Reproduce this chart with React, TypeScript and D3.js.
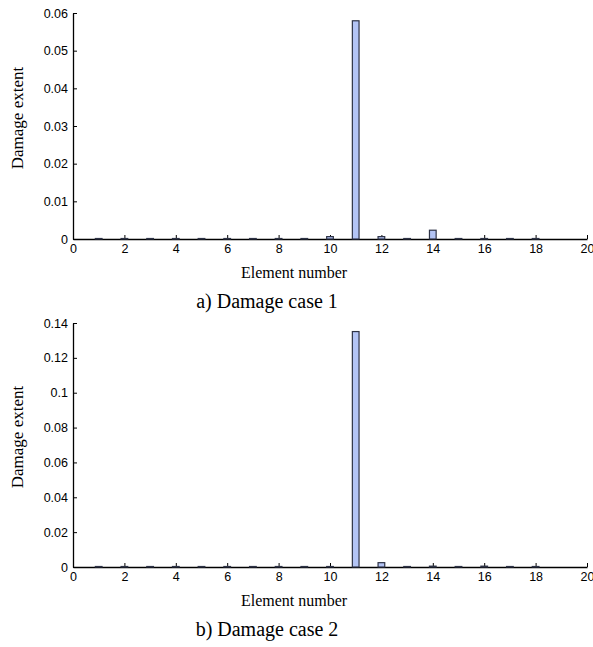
import React, { useRef, useEffect } from "react";
import * as d3 from "d3";

const width = 593;
const height = 647;

// element numbers along the bridge
const elements = [1, 2, 3, 4, 5, 6, 7, 8, 9, 10, 11, 12, 13, 14, 15, 16, 17, 18];
// damage extent, case 1
const case1 = [0, 0, 0, 0, 0, 0, 0, 0, 0, 0.0005, 0.0578, 0.0005, 0, 0.0022, 0, 0, 0, 0];
// damage extent, case 2
const case2 = [0, 0, 0, 0, 0, 0, 0, 0, 0, 0, 0.1348, 0.0022, 0, 0.0002, 0, 0.0002, 0, 0];

const xTicks = [0, 2, 4, 6, 8, 10, 12, 14, 16, 18, 20];
const yTicks1 = [0, 0.01, 0.02, 0.03, 0.04, 0.05, 0.06];
const yTicks2 = [0, 0.02, 0.04, 0.06, 0.08, 0.1, 0.12, 0.14];

const panels = [
  { values: case1, yMax: 0.06, yTicks: yTicks1, top: 13, bottom: 239, caption: "a) Damage case 1" },
  { values: case2, yMax: 0.14, yTicks: yTicks2, top: 323, bottom: 567, caption: "b) Damage case 2" },
];

const left = 73;
const right = 587;
const barWidth = 0.26; // in element units
const barFill = "#b3c4f5";
const barStroke = "#2e3346";
const serif = "'Liberation Serif', 'Times New Roman', serif";
const sans = "'Liberation Sans', Arial, sans-serif";

const x = d3.scaleLinear().domain([0, 20]).range([left, right]);

const App = () => {
  const svgRef = useRef(null);

  useEffect(() => {
    if (!svgRef.current) return;
    const svg = d3.select(svgRef.current);
    svg.selectAll("*").remove();

    panels.forEach((p) => {
      const y = d3.scaleLinear().domain([0, p.yMax]).range([p.bottom, p.top]);
      const g = svg.append("g");

      const xAxis = d3
        .axisBottom(x)
        .tickValues(xTicks)
        .tickSizeInner(-4)
        .tickSizeOuter(0)
        .tickPadding(5)
        .tickFormat(d3.format("d"));
      const yAxis = d3
        .axisLeft(y)
        .tickValues(p.yTicks)
        .tickSizeInner(-4)
        .tickSizeOuter(0)
        .tickPadding(5)
        .tickFormat(d3.format("~g"));

      const gx = g.append("g").attr("transform", `translate(0, ${p.bottom})`).call(xAxis);
      const gy = g.append("g").attr("transform", `translate(${left}, 0)`).call(yAxis);
      [gx, gy].forEach((a) => {
        a.attr("font-family", sans).attr("font-size", 12.5);
        a.selectAll("text").attr("fill", "#000");
        a.selectAll("line").attr("stroke", "#000");
        a.select(".domain").attr("stroke", "#000").attr("stroke-width", 1.3);
      });

      const data = elements.map((e, i) => ({ e, v: p.values[i] }));
      g.append("g")
        .selectAll("rect")
        .data(data)
        .enter()
        .append("rect")
        .attr("x", (d) => x(d.e - barWidth / 2))
        .attr("y", (d) => y(d.v) - 0.5)
        .attr("width", x(barWidth) - x(0))
        .attr("height", (d) => y(0) - y(d.v) + 0.5)
        .attr("fill", barFill)
        .attr("stroke", barStroke)
        .attr("stroke-width", 1.2);

      g.append("text")
        .attr("x", 294)
        .attr("y", p.bottom + 39)
        .attr("text-anchor", "middle")
        .attr("font-family", serif)
        .attr("font-size", 16)
        .text("Element number");

      g.append("text")
        .attr("transform", `translate(23, ${(p.top + p.bottom) / 2 - 8}) rotate(-90)`)
        .attr("text-anchor", "middle")
        .attr("font-family", serif)
        .attr("font-size", 17)
        .text("Damage extent");

      g.append("text")
        .attr("x", 267)
        .attr("y", p.bottom + 69)
        .attr("text-anchor", "middle")
        .attr("font-family", serif)
        .attr("font-size", 20)
        .text(p.caption);
    });
  }, []);

  return (
    <svg
      ref={svgRef}
      width={width}
      height={height}
      style={{ position: "absolute", left: 0, top: 0, background: "#fff" }}
    />
  );
};

export default App;
